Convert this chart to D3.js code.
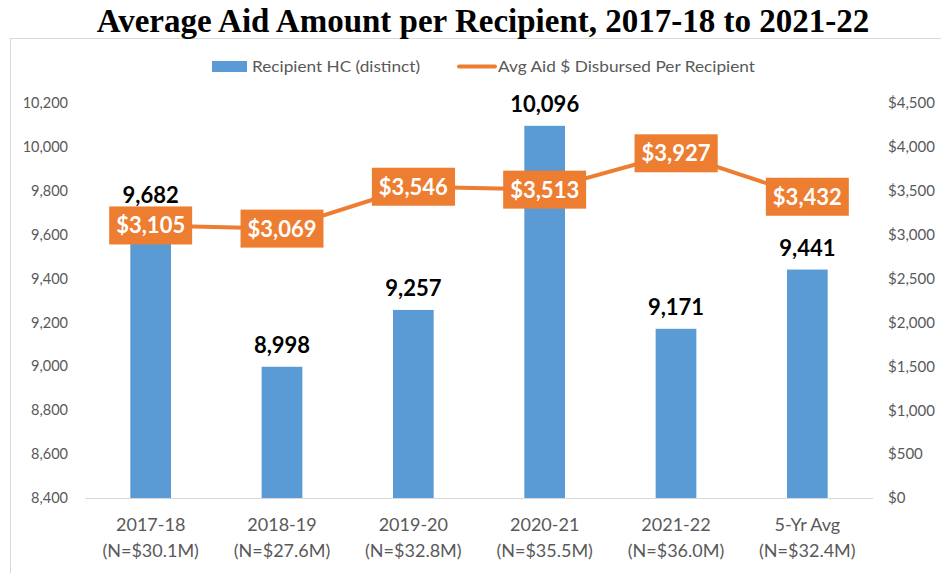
<html>
<head>
  <meta charset="utf-8" />
  <style>
    body { margin: 0; background: #fff; }
    text { font-family: Lato, "Open Sans", sans-serif; }
  </style>
</head>
<body>
  <svg id="chart" width="941" height="573"></svg>
</body>
<script src="https://cdn.jsdelivr.net/npm/d3@7/dist/d3.min.js"></script>
<script>

const years = ['2017-18', '2018-19', '2019-20', '2020-21', '2021-22', '5-Yr Avg']
const totals = ['(N=$30.1M)', '(N=$27.6M)', '(N=$32.8M)', '(N=$35.5M)', '(N=$36.0M)', '(N=$32.4M)']
const recipients = [9682, 8998, 9257, 10096, 9171, 9441]
const avgAid = [3105, 3069, 3546, 3513, 3927, 3432]
const leftTicks = [8400, 8600, 8800, 9000, 9200, 9400, 9600, 9800, 10000, 10200]
const rightTicks = [0, 500, 1000, 1500, 2000, 2500, 3000, 3500, 4000, 4500]

const blue = '#5B9BD5'
const orange = '#ED7D31'
const grey = '#595959'

const svg = d3.select('#chart')

// frame
svg.append('rect')
  .attr('x', 10.5).attr('y', 38.5)
  .attr('width', 960).attr('height', 600)
  .attr('fill', 'none').attr('stroke', '#d9d9d9')

svg.append('text')
  .attr('x', 483).attr('y', 32)
  .attr('text-anchor', 'middle')
  .style('font-family', '"Liberation Serif", "Times New Roman", serif')
  .style('font-weight', 'bold')
  .style('font-size', '33px')
  .text('Average Aid Amount per Recipient, 2017-18 to 2021-22')

const pLeft = 85, pRight = 873, pTop = 103, pBottom = 498

const x = d3.scaleBand().domain(years).range([pLeft, pRight]).paddingInner(0.69).paddingOuter(0.345)
const yL = d3.scaleLinear().domain([8400, 10200]).range([pBottom, pTop])
const yR = d3.scaleLinear().domain([0, 4500]).range([pBottom, pTop])

// left axis
const axL = svg.append('g').attr('transform', `translate(${pLeft},0)`)
  .call(d3.axisLeft(yL).tickValues(leftTicks).tickSize(0).tickPadding(17).tickFormat(d3.format(',')))
axL.select('.domain').remove()
axL.selectAll('text').attr('fill', grey).style('font-size', '14.5px')

// right axis
const axR = svg.append('g').attr('transform', `translate(${pRight},0)`)
  .call(d3.axisRight(yR).tickValues(rightTicks).tickSize(0).tickPadding(15).tickFormat(d => '$' + d3.format(',')(d)))
axR.select('.domain').remove()
axR.selectAll('text').attr('fill', grey).style('font-size', '15px')

// bars
svg.append('g').selectAll('rect')
  .data(recipients)
  .join('rect')
  .attr('x', (d, i) => x(years[i]))
  .attr('width', x.bandwidth())
  .attr('y', d => yL(d))
  .attr('height', d => pBottom - yL(d))
  .attr('fill', blue)

// baseline
svg.append('line')
  .attr('x1', pLeft).attr('x2', pRight)
  .attr('y1', pBottom + 0.5).attr('y2', pBottom + 0.5)
  .attr('stroke', '#d9d9d9')

// bar labels
svg.append('g').selectAll('text')
  .data(recipients)
  .join('text')
  .attr('x', (d, i) => x(years[i]) + x.bandwidth() / 2)
  .attr('y', d => yL(d) - 14)
  .attr('text-anchor', 'middle')
  .style('font-size', '22px').style('font-weight', 'bold')
  .attr('fill', '#000')
  .text(d => d3.format(',')(d))

// x labels
const xl = svg.append('g').selectAll('g')
  .data(years)
  .join('g')
  .attr('transform', d => `translate(${x(d) + x.bandwidth() / 2},0)`)
xl.append('text').attr('y', 531).attr('text-anchor', 'middle')
  .attr('fill', grey).style('font-size', '18px').text(d => d)
xl.append('text').attr('y', 557).attr('text-anchor', 'middle')
  .attr('fill', grey).style('font-size', '18px').text((d, i) => totals[i])

// line
const cx = i => x(years[i]) + x.bandwidth() / 2
svg.append('path')
  .datum(avgAid)
  .attr('d', d3.line().x((d, i) => cx(i)).y(d => yR(d)))
  .attr('fill', 'none')
  .attr('stroke', orange)
  .attr('stroke-width', 4)
  .attr('stroke-linejoin', 'round')

// line labels
const lab = svg.append('g').selectAll('g')
  .data(avgAid)
  .join('g')
  .attr('transform', (d, i) => `translate(${cx(i)},${yR(d)})`)
lab.append('text')
  .attr('y', 8)
  .attr('text-anchor', 'middle')
  .attr('fill', '#fff')
  .style('font-size', '22px').style('font-weight', 'bold')
  .text(d => '$' + d3.format(',')(d))
lab.each(function () {
  const g = d3.select(this)
  const bb = g.select('text').node().getBBox()
  g.insert('rect', 'text')
    .attr('x', bb.x - 7).attr('width', bb.width + 14)
    .attr('y', -19).attr('height', 38)
    .attr('fill', orange)
})

// legend
svg.append('rect').attr('x', 212).attr('y', 61).attr('width', 35).attr('height', 11).attr('fill', blue)
svg.append('text').attr('x', 252).attr('y', 72).attr('fill', grey).style('font-size', '16px')
  .attr('textLength', 168).attr('lengthAdjust', 'spacingAndGlyphs').text('Recipient HC (distinct)')
svg.append('line').attr('x1', 459).attr('x2', 495).attr('y1', 66.5).attr('y2', 66.5)
  .attr('stroke', orange).attr('stroke-width', 4).attr('stroke-linecap', 'round')
svg.append('text').attr('x', 498).attr('y', 72).attr('fill', grey).style('font-size', '16px')
  .attr('textLength', 257).attr('lengthAdjust', 'spacingAndGlyphs').text('Avg Aid $ Disbursed Per Recipient')

</script>
</html>
